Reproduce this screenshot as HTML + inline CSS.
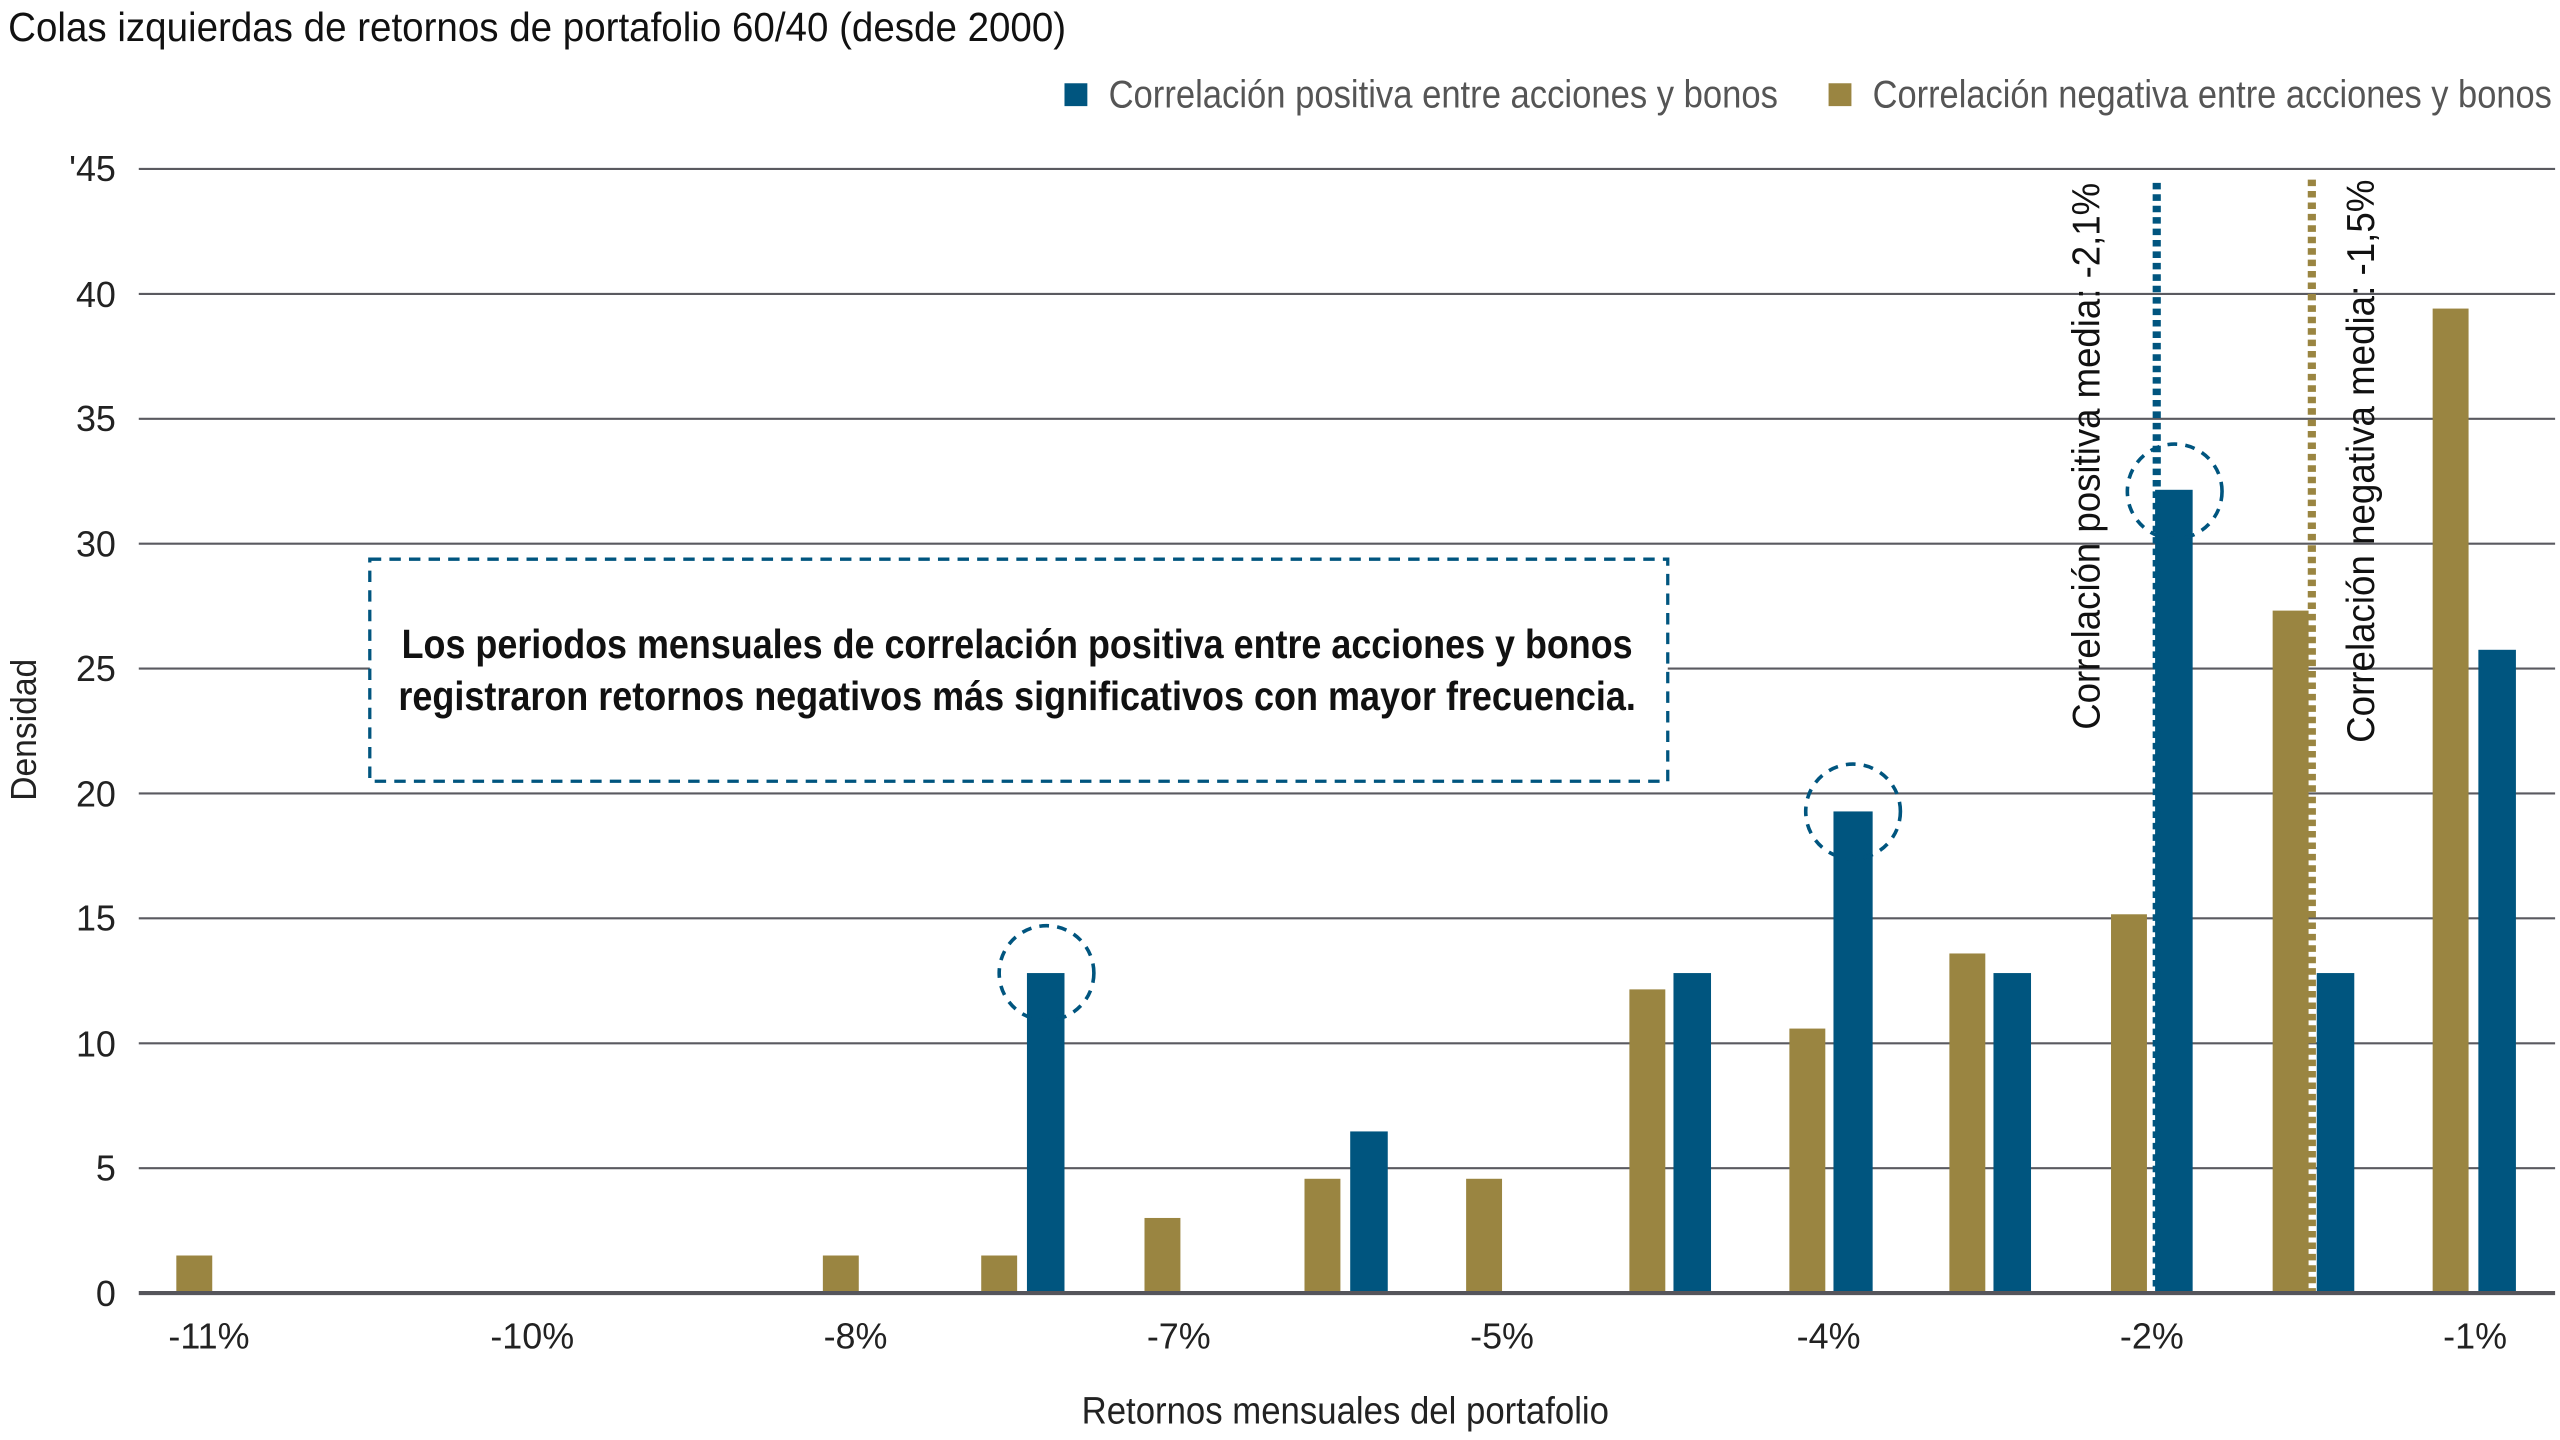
<!DOCTYPE html>
<html><head><meta charset="utf-8"><style>html,body{margin:0;padding:0;background:#fff}svg{display:block}</style></head>
<body>
<svg width="2560" height="1440" viewBox="0 0 1568 882" xmlns="http://www.w3.org/2000/svg" font-family="'Liberation Sans', sans-serif">
<rect width="1568" height="882" fill="#fff"/>
<text x="5" y="25" font-size="25" fill="#111" textLength="648" lengthAdjust="spacingAndGlyphs">Colas izquierdas de retornos de portafolio 60/40 (desde 2000)</text>
<rect x="652" y="51" width="14" height="14" fill="#00557f"/>
<text x="679" y="66" font-size="24" fill="#555" textLength="410" lengthAdjust="spacingAndGlyphs">Correlación positiva entre acciones y bonos</text>
<rect x="1120" y="51" width="14" height="14" fill="#9a8541"/>
<text x="1147" y="66" font-size="24" fill="#555" textLength="416" lengthAdjust="spacingAndGlyphs">Correlación negativa entre acciones y bonos</text>
<g stroke="#5a5a60" stroke-width="1.3">
<line x1="85" x2="1565" y1="103.5" y2="103.5"/><line x1="85" x2="1565" y1="180" y2="180"/>
<line x1="85" x2="1565" y1="256.5" y2="256.5"/><line x1="85" x2="1565" y1="333" y2="333"/>
<line x1="85" x2="1565" y1="409.5" y2="409.5"/><line x1="85" x2="1565" y1="486" y2="486"/>
<line x1="85" x2="1565" y1="562.5" y2="562.5"/><line x1="85" x2="1565" y1="639" y2="639"/>
<line x1="85" x2="1565" y1="715.5" y2="715.5"/>
</g>
<g font-size="22" fill="#222" text-anchor="end">
<text x="71" y="111">'45</text><text x="71" y="188">40</text><text x="71" y="264">35</text><text x="71" y="341">30</text><text x="71" y="417">25</text><text x="71" y="494">20</text><text x="71" y="570">15</text><text x="71" y="647">10</text><text x="71" y="723">5</text><text x="71" y="800">0</text>
</g>
<text transform="translate(22,447) rotate(-90)" font-size="22" fill="#222" text-anchor="middle" textLength="87" lengthAdjust="spacingAndGlyphs">Densidad</text>
<rect x="226.5" y="342.5" width="795" height="136" fill="#fff" stroke="#00557f" stroke-width="2" stroke-dasharray="7,5"/>
<g font-size="25" font-weight="bold" fill="#111" text-anchor="middle">
<text x="623" y="403" textLength="754" lengthAdjust="spacingAndGlyphs">Los periodos mensuales de correlación positiva entre acciones y bonos</text>
<text x="623" y="435" textLength="758" lengthAdjust="spacingAndGlyphs">registraron retornos negativos más significativos con mayor frecuencia.</text>
</g>
<g fill="#9a8541">
<rect x="108" y="769" width="22" height="23"/>
<rect x="504" y="769" width="22" height="23"/>
<rect x="601" y="769" width="22" height="23"/>
<rect x="701" y="746" width="22" height="46"/>
<rect x="799" y="722" width="22" height="70"/>
<rect x="898" y="722" width="22" height="70"/>
<rect x="998" y="606" width="22" height="186"/>
<rect x="1096" y="630" width="22" height="162"/>
<rect x="1194" y="584" width="22" height="208"/>
<rect x="1293" y="560" width="22" height="232"/>
<rect x="1392" y="374" width="22" height="418"/>
<rect x="1490" y="189" width="22" height="603"/>
</g>
<g fill="#00557f">
<rect x="629" y="596" width="23" height="196"/>
<rect x="827" y="693" width="23" height="99"/>
<rect x="1025" y="596" width="23" height="196"/>
<rect x="1123" y="497" width="24" height="295"/>
<rect x="1221" y="596" width="23" height="196"/>
<rect x="1320" y="300" width="23" height="492"/>
<rect x="1419" y="596" width="23" height="196"/>
<rect x="1518" y="398" width="23" height="394"/>
</g>
<line x1="1321" y1="112" x2="1321" y2="792" stroke="#00557f" stroke-width="5" stroke-dasharray="4,3"/>
<line x1="1416" y1="110" x2="1416" y2="792" stroke="#9a8541" stroke-width="5" stroke-dasharray="4,3"/>
<line x1="85" x2="1565" y1="792" y2="792" stroke="#55555b" stroke-width="2.5"/>
<g fill="none" stroke="#00557f" stroke-width="2.2" stroke-dasharray="6,5">
<ellipse cx="641" cy="596" rx="29" ry="29"/>
<ellipse cx="1135" cy="497" rx="29" ry="29"/>
<ellipse cx="1332" cy="301" rx="29" ry="29"/>
</g>
<g font-size="24" fill="#111">
<text transform="translate(1286,447) rotate(-90)" textLength="335" lengthAdjust="spacingAndGlyphs">Correlación positiva media: -2,1%</text>
<text transform="translate(1454,455) rotate(-90)" textLength="345" lengthAdjust="spacingAndGlyphs">Correlación negativa media: -1,5%</text>
</g>
<g font-size="22" fill="#222" text-anchor="middle">
<text x="128" y="826">-11%</text><text x="326" y="826">-10%</text><text x="524" y="826">-8%</text><text x="722" y="826">-7%</text><text x="920" y="826">-5%</text><text x="1120" y="826">-4%</text><text x="1318" y="826">-2%</text><text x="1516" y="826">-1%</text>
</g>
<text x="824" y="872" font-size="23" fill="#222" text-anchor="middle" textLength="323" lengthAdjust="spacingAndGlyphs">Retornos mensuales del portafolio</text>
</svg>
</body></html>
